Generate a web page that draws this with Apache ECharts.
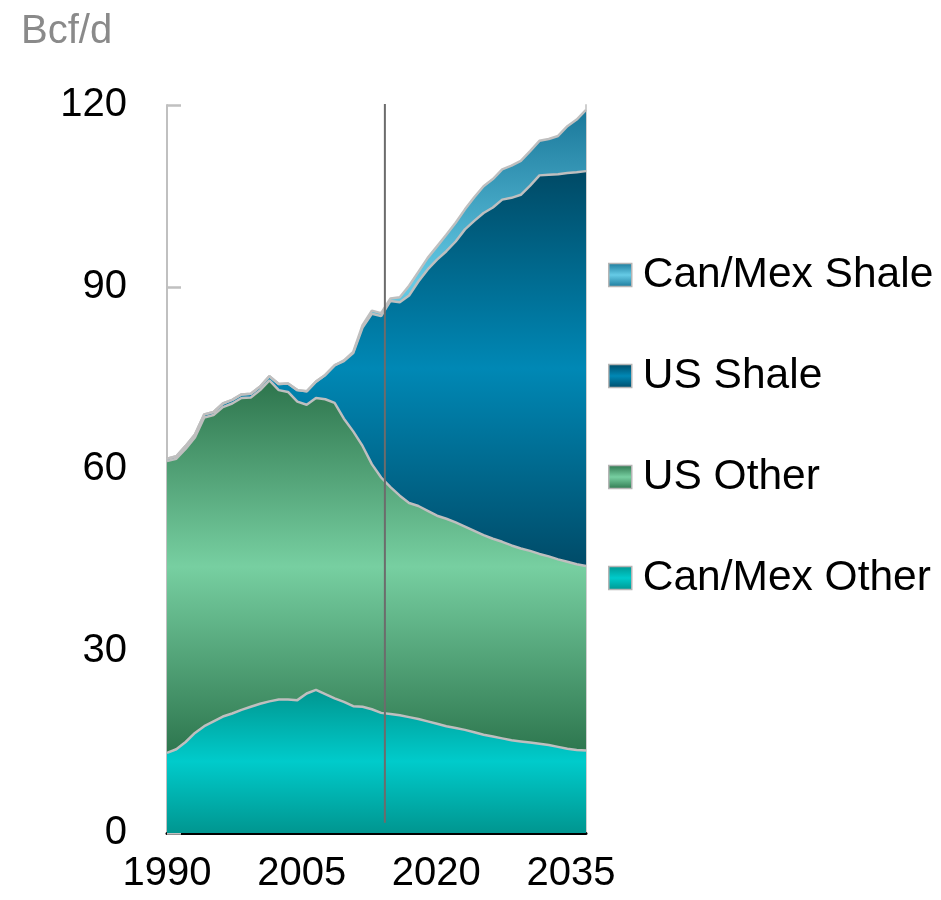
<!DOCTYPE html>
<html><head><meta charset="utf-8">
<script src="https://cdn.jsdelivr.net/npm/echarts@6/dist/echarts.min.js"></script>
<style>html,body{margin:0;padding:0;background:#fff}#c{width:941px;height:900px}</style>
</head><body><div id="c"></div>
<script>
const years = ['1990','1991','1992','1993','1994','1995','1996','1997','1998','1999',
  '2000','2001','2002','2003','2004','2005','2006','2007','2008','2009',
  '2010','2011','2012','2013','2014','2015','2016','2017','2018','2019',
  '2020','2021','2022','2023','2024','2025','2026','2027','2028','2029',
  '2030','2031','2032','2033','2034','2035'];
const canMexOther = [13.2,13.8,15.0,16.5,17.6,18.4,19.2,19.7,20.3,20.8,
  21.3,21.7,22.0,22.0,21.9,23.0,23.6,22.9,22.2,21.6,
  20.9,20.8,20.4,19.8,19.6,19.4,19.1,18.8,18.4,18.0,
  17.6,17.3,17.0,16.6,16.2,15.9,15.6,15.3,15.1,14.9,
  14.7,14.5,14.2,13.9,13.7,13.6];
const usOther = [48.1,47.9,48.3,48.7,50.9,50.5,51.0,51.1,51.4,51.0,
  51.7,52.9,51.0,50.7,49.2,47.6,48.1,48.6,48.7,46.7,
  45.3,43.0,40.4,38.8,37.4,36.2,35.3,35.1,34.7,34.3,
  34.2,33.9,33.5,33.2,32.9,32.6,32.4,32.1,31.8,31.6,
  31.3,31.1,30.9,30.8,30.6,30.4];
const usShale = [0.4,0.4,0.5,0.5,0.5,0.5,0.6,0.6,0.6,0.6,
  0.6,0.7,1.0,1.4,1.9,2.2,2.7,4.0,6.2,9.5,
  12.9,19.5,24.8,26.6,30.7,31.9,34.2,37.0,39.8,42.2,
  44.1,46.3,49.0,51.1,53.1,54.6,56.4,57.3,58.3,60.2,
  62.4,62.9,63.5,64.1,64.6,65.1];
const canMexShale = [0,0,0,0,0,0,0,0,0,0,
  0,0,0,0,0,0,0,0,0,0.1,
  0.2,0.4,0.5,0.5,0.4,0.8,1.6,1.6,1.9,2.2,
  2.7,3.1,3.3,3.9,4.4,4.7,5.0,5.3,5.6,5.7,
  5.7,5.9,6.3,7.7,8.7,10.1];
const xLabelYears = [1990,2005,2020,2035];
const yMax = 120, yInterval = 30;
const dividerYear = 2013.4;
const dividerRange = [1.7, 120.6];
const seriesNames = ['Can/Mex Other','US Other','US Shale','Can/Mex Shale'];
const legendOrder = ['Can/Mex Shale','US Shale','US Other','Can/Mex Other'];

function grad(c0, c1, c2) {
  return {type:'linear', x:0, y:0, x2:0, y2:1, colorStops:[
    {offset:0,color:c0},{offset:0.5,color:c1},{offset:1,color:c2}]};
}
const fills = [
  grad('#009690','#00cbcb','#009690'),
  grad('#2d744c','#77cfa1','#2d764e'),
  grad('#004a66','#0088b5','#004b68'),
  grad('#1a789a','#66cbe6','#1a789a')
];
const dataSets = [canMexOther, usOther, usShale, canMexShale];
const FONT = 'Liberation Sans, Arial, sans-serif';

const series = dataSets.map((arr, i) => ({
  name: seriesNames[i],
  type: 'line',
  stack: 'total',
  xAxisIndex: 0,
  yAxisIndex: 0,
  data: arr,
  showSymbol: false,
  symbol: 'none',
  itemStyle: {color: fills[i]},
  lineStyle: {color: '#bfbfbf', width: 2.5},
  areaStyle: {color: fills[i], opacity: 1}
}));
series.push({
  name: 'divider', type: 'line', xAxisIndex: 2, yAxisIndex: 0,
  data: [[dividerYear, dividerRange[0]], [dividerYear, dividerRange[1]]],
  symbol: 'none', showSymbol: false, silent: true, z: 10,
  lineStyle: {color: '#6c6c6c', width: 2}
});

const chart = echarts.init(document.getElementById('c'), null, {renderer: 'canvas'});
chart.setOption({
  animation: false,
  backgroundColor: '#fff',
  title: {text: 'Bcf/d', left: 16, top: 7,
    textStyle: {fontFamily: FONT, fontSize: 40, fontWeight: 'normal', color: '#8a8a8a'}},
  grid: {left: 167, right: 355, top: 105, bottom: 67, containLabel: false},
  legend: {
    data: legendOrder, orient: 'vertical', left: 608, top: 250, padding: 0,
    icon: 'rect', itemWidth: 23, itemHeight: 23, itemGap: 51,
    itemStyle: {borderColor: '#b5b5b5', borderWidth: 1.5},
    textStyle: {fontFamily: FONT, fontSize: 42.5, color: '#000', lineHeight: 50, padding: [0,0,0,6]},
    selectedMode: false
  },
  xAxis: [{
    type: 'category', data: years, boundaryGap: false,
    axisLine: {show: true, lineStyle: {color: '#000', width: 3}},
    axisTick: {show: false}, axisLabel: {show: false}, splitLine: {show: false}
  }, {
    type: 'value', min: 1990, max: 2036.67, position: 'bottom',
    axisLine: {show: false}, axisTick: {show: false}, splitLine: {show: false},
    axisLabel: {customValues: xLabelYears, fontFamily: FONT, fontSize: 40, color: '#000', margin: 21,
      formatter: v => String(v)}
  }, {
    type: 'value', min: 1990, max: 2035, show: false
  }],
  yAxis: [{
    type: 'value', min: 0, max: yMax, interval: yInterval,
    axisLine: {show: true, lineStyle: {color: '#c0c0c0', width: 2}},
    axisTick: {show: true, inside: true, length: 14, lineStyle: {color: '#c0c0c0', width: 2.5}},
    axisLabel: {fontFamily: FONT, fontSize: 40, color: '#000', margin: 40},
    splitLine: {show: false}
  }, {
    type: 'value', min: 0, max: yMax, position: 'right',
    axisLine: {show: true, lineStyle: {color: '#cfcfcf', width: 2}},
    axisTick: {show: false}, axisLabel: {show: false}, splitLine: {show: false}
  }],
  series: series
});
</script></body></html>
